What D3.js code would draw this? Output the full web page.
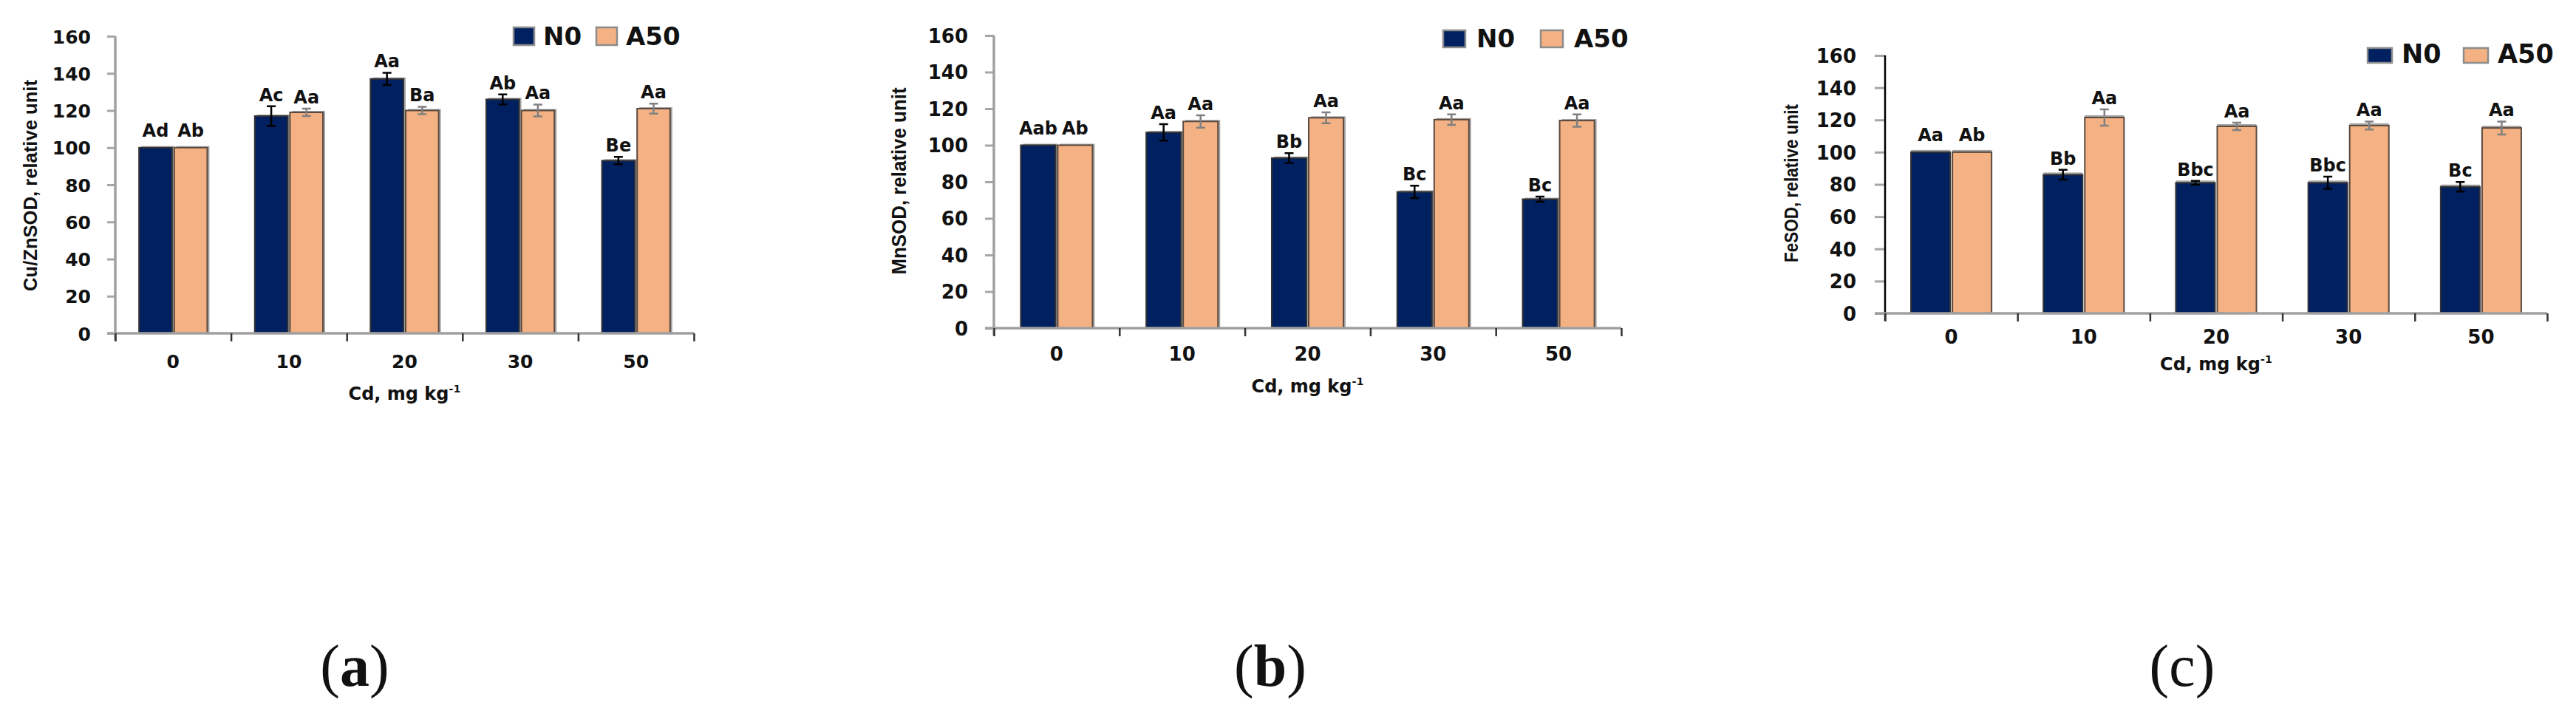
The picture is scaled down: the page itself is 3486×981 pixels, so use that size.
<!DOCTYPE html>
<html>
<head>
<meta charset="utf-8">
<script src="https://cdn.jsdelivr.net/npm/d3@7"></script>
<style>
  body { margin: 0; background: #fff; }
  text { font-family: "DejaVu Sans", sans-serif; font-weight: bold; fill: #111; }
</style>
</head>
<body>
<svg width="3486" height="981"></svg>
<script>
// Cd levels (mg/kg) and the two treatments
var cd = ["0", "10", "20", "30", "50"];
var series = ["N0", "A50"];
var yTicks = [0, 20, 40, 60, 80, 100, 120, 140, 160];

// (a) Cu/ZnSOD
var cuznN0 = [100, 117, 137, 126, 93];
var cuznA50 = [100, 119, 120, 120, 121];
var cuznN0Err = [0, 5.3, 3.3, 2.7, 2];
var cuznA50Err = [0, 2, 2, 3.2, 2.7];
var cuznN0Lab = ["Ad", "Ac", "Aa", "Ab", "Be"];
var cuznA50Lab = ["Ab", "Aa", "Ba", "Aa", "Aa"];

// (b) MnSOD
var mnN0 = [100, 107, 93, 74.5, 70.5];
var mnA50 = [100, 113, 115, 114, 113.5];
var mnN0Err = [0, 4.5, 2.7, 3.4, 1.4];
var mnA50Err = [0, 3.4, 3, 2.9, 3.4];
var mnN0Lab = ["Aab", "Aa", "Bb", "Bc", "Bc"];
var mnA50Lab = ["Ab", "Aa", "Aa", "Aa", "Aa"];

// (c) FeSOD
var feN0 = [100, 86, 81, 81, 78.5];
var feA50 = [100, 121.5, 116, 116.5, 115];
var feN0Err = [0, 3, 1.2, 3.8, 3];
var feA50Err = [0, 5, 2.3, 2.5, 4];
var feN0Lab = ["Aa", "Bb", "Bbc", "Bbc", "Bc"];
var feA50Lab = ["Ab", "Aa", "Aa", "Aa", "Aa"];

var colors = { N0: "#002060", A50: "#F4B183" };
var strokes = { N0: "#333", A50: "#5b4a3f" };
var errColors = { N0: "#000", A50: "#808080" };

var svg = d3.select("svg");

var panels = [
  { n0: cuznN0, a50: cuznA50, n0e: cuznN0Err, a50e: cuznA50Err, n0l: cuznN0Lab, a50l: cuznA50Lab,
    title: "Cu/ZnSOD, relative unit", tag: "a", tagX: 480, tagBold: true,
    x0: 156, x1: 939, y0: 451, y160: 49, barFrac: 0.285,
    yAxisColor: "#a0a0a0", yAxisW: 3.5, tickLen: 11, tickPad: 22, tickFont: 25,
    xPad: 29, xFont: 25, labFont: 24, xTitleY: 541, xTitleFont: 24,
    yTitleX: 41, yTitleY: 251, yTitleLen: 286, yTitleFont: 25,
    shadow: [3, -2],
    leg: { y: 37, h: 24, w: 28, n0Box: 695, n0Text: 735, a50Box: 807, a50Text: 847, font: 34 } },
  { n0: mnN0, a50: mnA50, n0e: mnN0Err, a50e: mnA50Err, n0l: mnN0Lab, a50l: mnA50Lab,
    title: "MnSOD, relative unit", tag: "b", tagX: 1719, tagBold: true,
    x0: 1345, x1: 2194, y0: 444, y160: 48, barFrac: 0.277,
    yAxisColor: "#a0a0a0", yAxisW: 3.5, tickLen: 12, tickPad: 23, tickFont: 26,
    xPad: 26, xFont: 26, labFont: 24, xTitleY: 531, xTitleFont: 24,
    yTitleX: 1217, yTitleY: 245, yTitleLen: 253, yTitleFont: 27,
    shadow: [3, -2],
    leg: { y: 41, h: 23, w: 30, n0Box: 1953, n0Text: 1998, a50Box: 2085, a50Text: 2130, font: 34 } },
  { n0: feN0, a50: feA50, n0e: feN0Err, a50e: feA50Err, n0l: feN0Lab, a50l: feA50Lab,
    title: "FeSOD, relative unit", tag: "c", tagX: 2953, tagBold: false,
    x0: 2551, x1: 3447, y0: 424, y160: 75, barFrac: 0.296,
    yAxisColor: "#000", yAxisW: 2.5, tickLen: 14, tickPad: 25, tickFont: 26,
    xPad: 23, xFont: 26, labFont: 24, xTitleY: 501, xTitleFont: 24,
    yTitleX: 2424, yTitleY: 248, yTitleLen: 214, yTitleFont: 25,
    shadow: [0, -3],
    leg: { y: 65, h: 20, w: 33, n0Box: 3204, n0Text: 3250, a50Box: 3334, a50Text: 3380, font: 35 } }
];

panels.forEach(drawPanel);

function drawPanel(p) {
  var g = svg.append("g");
  var x = d3.scaleBand().domain(cd).range([p.x0, p.x1]);
  var y = d3.scaleLinear().domain([0, 160]).range([p.y0, p.y160]);
  var bw = x.bandwidth() * p.barFrac;
  var gap = 3;

  var rows = [];
  cd.forEach(function(c, i) {
    var mid = x(c) + x.bandwidth() / 2;
    rows.push({ s: "N0", x: mid - gap / 2 - bw, v: p.n0[i], e: p.n0e[i], lab: p.n0l[i] });
    rows.push({ s: "A50", x: mid + gap / 2, v: p.a50[i], e: p.a50e[i], lab: p.a50l[i] });
  });

  // y axis
  var ya = g.append("g")
    .attr("transform", "translate(" + p.x0 + ",0)")
    .call(d3.axisLeft(y).tickValues(yTicks).tickSize(p.tickLen).tickPadding(p.tickPad).tickSizeOuter(0));
  ya.select(".domain").remove();
  ya.selectAll(".tick line").attr("stroke", "#a6a6a6").attr("stroke-width", 3);
  ya.selectAll(".tick text").style("font-size", p.tickFont + "px").attr("fill", "#111").attr("dy", "0.36em");
  g.append("line")
    .attr("x1", p.x0).attr("x2", p.x0)
    .attr("y1", y(160)).attr("y2", p.y0 + 10)
    .attr("stroke", p.yAxisColor).attr("stroke-width", p.yAxisW);

  // bars
  g.selectAll(".shadow").data(rows).enter().append("rect")
    .attr("x", function(d) { return d.x + p.shadow[0]; })
    .attr("y", function(d) { return y(d.v) + p.shadow[1]; })
    .attr("width", bw)
    .attr("height", function(d) { return p.y0 - y(d.v) - p.shadow[1]; })
    .attr("fill", "#a6a6a6");
  g.selectAll(".bar").data(rows).enter().append("rect")
    .attr("x", function(d) { return d.x; })
    .attr("y", function(d) { return y(d.v); })
    .attr("width", bw)
    .attr("height", function(d) { return p.y0 - y(d.v); })
    .attr("fill", function(d) { return colors[d.s]; })
    .attr("stroke", function(d) { return strokes[d.s]; })
    .attr("stroke-width", 2);

  // error bars
  var eb = rows.filter(function(d) { return d.e > 0; });
  var cx = function(d) { return d.x + bw / 2; };
  g.selectAll(".err").data(eb).enter().append("path")
    .attr("d", function(d) {
      var t = y(d.v + d.e), b = y(d.v - d.e), c = cx(d);
      return "M" + c + "," + t + "V" + b + "M" + (c - 6) + "," + t + "H" + (c + 6) + "M" + (c - 6) + "," + b + "H" + (c + 6);
    })
    .attr("fill", "none")
    .attr("stroke", function(d) { return errColors[d.s]; })
    .attr("stroke-width", 2.5);

  // significance letters
  g.selectAll(".lab").data(rows).enter().append("text")
    .attr("x", cx)
    .attr("y", function(d) { return y(d.v + d.e) - (d.e > 0 ? 7 : 15); })
    .attr("text-anchor", "middle")
    .style("font-size", p.labFont + "px")
    .text(function(d) { return d.lab; });

  // x axis
  g.append("line")
    .attr("x1", p.x0 - p.tickLen).attr("x2", p.x1)
    .attr("y1", p.y0).attr("y2", p.y0)
    .attr("stroke", "#a0a0a0").attr("stroke-width", 3.5);
  var edges = d3.scaleLinear().domain([0, cd.length]).range([p.x0, p.x1]);
  var xe = g.append("g")
    .attr("transform", "translate(0," + p.y0 + ")")
    .call(d3.axisBottom(edges).tickValues(d3.range(cd.length + 1)).tickSize(11).tickFormat(""));
  xe.select(".domain").remove();
  xe.selectAll(".tick line").attr("stroke", "#333").attr("stroke-width", 2.5);
  var xa = g.append("g")
    .attr("transform", "translate(0," + p.y0 + ")")
    .call(d3.axisBottom(x).tickSize(0).tickPadding(p.xPad));
  xa.select(".domain").remove();
  xa.selectAll(".tick text").style("font-size", p.xFont + "px").attr("fill", "#111");

  // axis titles
  var xt = g.append("text")
    .attr("x", (p.x0 + p.x1) / 2).attr("y", p.xTitleY)
    .attr("text-anchor", "middle")
    .style("font-size", p.xTitleFont + "px");
  xt.append("tspan").text("Cd, mg kg");
  xt.append("tspan").attr("dy", -10).style("font-size", (p.xTitleFont * 0.6) + "px").text("-1");

  g.append("text")
    .attr("transform", "translate(" + p.yTitleX + "," + p.yTitleY + ") rotate(-90)")
    .attr("text-anchor", "middle")
    .attr("dy", "0.35em")
    .attr("textLength", p.yTitleLen)
    .attr("lengthAdjust", "spacingAndGlyphs")
    .style("font-family", "'Liberation Sans', Arial, sans-serif")
    .style("font-size", p.yTitleFont + "px")
    .text(p.title);

  // legend
  var L = p.leg;
  var lg = g.append("g");
  [[series[0], L.n0Box, L.n0Text], [series[1], L.a50Box, L.a50Text]].forEach(function(it) {
    lg.append("rect")
      .attr("x", it[1]).attr("y", L.y).attr("width", L.w).attr("height", L.h)
      .attr("fill", colors[it[0]]).attr("stroke", "#8c8c8c").attr("stroke-width", 2.5);
    lg.append("text")
      .attr("x", it[2]).attr("y", L.y + L.h)
      .style("font-size", L.font + "px")
      .text(it[0]);
  });

  // panel tag
  var tg = svg.append("text")
    .attr("x", p.tagX).attr("y", 928)
    .attr("text-anchor", "middle")
    .style("font-family", "'Liberation Serif', 'Times New Roman', serif")
    .style("font-weight", "normal")
    .style("font-size", "80px");
  tg.append("tspan").text("(");
  tg.append("tspan").style("font-weight", p.tagBold ? "bold" : "normal").text(p.tag);
  tg.append("tspan").text(")");
}
</script>
</body>
</html>
